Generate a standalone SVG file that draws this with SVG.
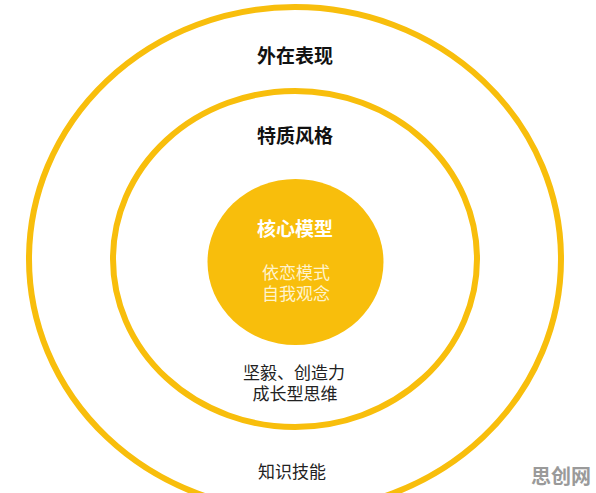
<svg xmlns="http://www.w3.org/2000/svg" width="596" height="493" viewBox="0 0 596 493">
<style>
.ring{fill:none;stroke:#F8BE0C;stroke-width:6}
.t{font-family:"Liberation Sans","Noto Sans CJK SC",sans-serif;text-anchor:middle}
.b{font-weight:bold;font-size:19px;fill:#111}
.r{font-size:17px;fill:#222}
.wb{font-weight:bold;font-size:19px;fill:#fff}
.wr{font-size:17px;fill:#FFF3CC}
</style>
<rect width="596" height="493" fill="#fff"/>
<g id="outer">
<ellipse class="ring" cx="295" cy="259" rx="266" ry="252"/>
<text class="t b" x="295" y="63">外在表现</text>
<text class="t r" x="292" y="478">知识技能</text>
</g>
<g id="middle">
<ellipse class="ring" cx="295" cy="259" rx="182" ry="168"/>
<text class="t b" x="295" y="143">特质风格</text>
<text class="t r" x="294" y="379">坚毅、创造力</text>
<text class="t r" x="295" y="400">成长型思维</text>
</g>
<g id="core">
<ellipse cx="295.5" cy="262" rx="88" ry="83" fill="#F8BE0C"/>
<text class="t wb" x="295" y="236">核心模型</text>
<text class="t wr" x="296" y="279">依恋模式</text>
<text class="t wr" x="296" y="300">自我观念</text>
</g>
<g id="connectors"></g>
<text class="t" x="561" y="484" style="font-size:20px;font-weight:bold;fill:#9a9a9a">思创网</text>
</svg>
